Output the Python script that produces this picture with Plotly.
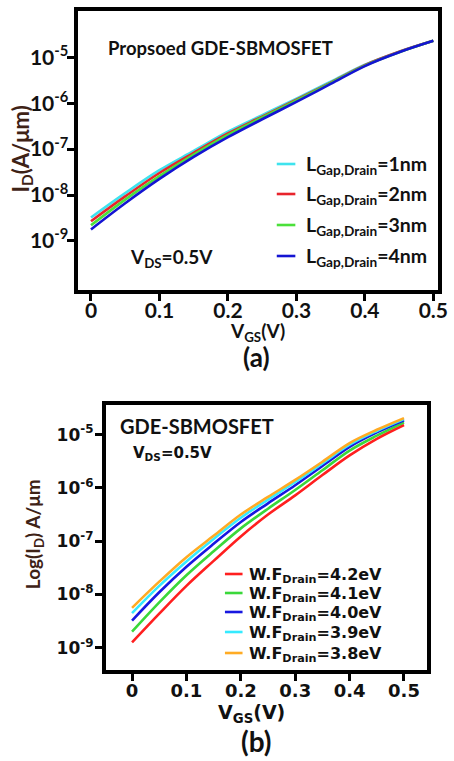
import plotly.graph_objects as go

W, H = 454, 761

# ---------------- data ----------------
vgs = [0, 0.05, 0.1, 0.15, 0.2, 0.25, 0.3, 0.35, 0.4, 0.45, 0.5]

# (a) drain gap length sweep, I_D in A/um
gap_labels = ["1nm", "2nm", "3nm", "4nm"]
id_gap1 = [3.24e-9, 1.10e-8, 3.47e-8, 9.12e-8, 2.40e-7, 5.50e-7, 1.26e-6, 2.95e-6, 6.92e-6, 1.32e-5, 2.29e-5]
id_gap2 = [2.69e-9, 9.33e-9, 3.02e-8, 8.32e-8, 2.19e-7, 5.13e-7, 1.20e-6, 2.82e-6, 6.76e-6, 1.32e-5, 2.29e-5]
id_gap3 = [2.19e-9, 7.94e-9, 2.57e-8, 7.59e-8, 2.04e-7, 4.90e-7, 1.15e-6, 2.75e-6, 6.61e-6, 1.29e-5, 2.29e-5]
id_gap4 = [1.78e-9, 6.61e-9, 2.24e-8, 6.76e-8, 1.82e-7, 4.47e-7, 1.07e-6, 2.63e-6, 6.46e-6, 1.29e-5, 2.29e-5]

# (b) drain work function sweep, I_D in A/um
wf_labels = ["4.2eV", "4.1eV", "4.0eV", "3.9eV", "3.8eV"]
id_wf42 = [1.26e-9, 4.37e-9, 1.45e-8, 4.27e-8, 1.23e-7, 3.16e-7, 7.24e-7, 1.74e-6, 4.07e-6, 8.32e-6, 1.51e-5]
id_wf41 = [2.00e-9, 7.08e-9, 2.29e-8, 6.46e-8, 1.74e-7, 4.07e-7, 9.12e-7, 2.14e-6, 5.01e-6, 9.55e-6, 1.70e-5]
id_wf40 = [3.24e-9, 1.10e-8, 3.31e-8, 8.91e-8, 2.29e-7, 5.13e-7, 1.12e-6, 2.57e-6, 5.89e-6, 1.10e-5, 1.86e-5]
id_wf39 = [4.47e-9, 1.45e-8, 4.17e-8, 1.10e-7, 2.75e-7, 6.03e-7, 1.29e-6, 2.88e-6, 6.46e-6, 1.17e-5, 1.95e-5]
id_wf38 = [5.62e-9, 1.74e-8, 5.01e-8, 1.26e-7, 3.16e-7, 6.76e-7, 1.41e-6, 3.09e-6, 6.92e-6, 1.23e-5, 2.04e-5]

x_ticks = [0, 0.1, 0.2, 0.3, 0.4, 0.5]
x_ticktext = ["0", "0.1", "0.2", "0.3", "0.4", "0.5"]
y_ticks = [1e-9, 1e-8, 1e-7, 1e-6, 1e-5]
y_ticktext = ["10<sup>-9</sup>", "10<sup>-8</sup>", "10<sup>-7</sup>", "10<sup>-6</sup>", "10<sup>-5</sup>"]

# ---------------- styling ----------------
CAL = "Lato"
VER = "DejaVu Sans"
BROWN = "#3e2216"
INK = "#111111"

colors_a = ["#3fe3ee", "#e8242c", "#4be03a", "#1414d2"]
colors_b = ["#ff1f1f", "#3ad83a", "#1717e0", "#35eaff", "#ffab24"]


def px(x):
    return x / W


def py(y):
    return 1 - y / H


fig = go.Figure()

names_a = ["L<sub>Gap,Drain</sub>=" + lab for lab in gap_labels]
names_b = ["W.F<sub>Drain</sub>=" + lab for lab in wf_labels]

for ys, nm, c in zip([id_gap1, id_gap2, id_gap3, id_gap4], names_a, colors_a):
    fig.add_trace(go.Scatter(
        x=vgs, y=ys, mode="lines", line=dict(color=c, width=2.6, shape="spline"),
        name=nm, xaxis="x", yaxis="y", showlegend=False))

for ys, nm, c in zip([id_wf42, id_wf41, id_wf40, id_wf39, id_wf38], names_b, colors_b):
    fig.add_trace(go.Scatter(
        x=vgs, y=ys, mode="lines", line=dict(color=c, width=2.6, shape="spline"),
        name=nm, xaxis="x2", yaxis="y2", showlegend=False))

common_axis = dict(showline=True, linecolor="black", mirror=True, ticks="outside",
                   tickcolor="black", showgrid=False, zeroline=False,
                   linewidth=3.5, tickwidth=3, ticklen=7, ticklabeloverflow="allow")

fig.update_layout(
    width=W, height=H, margin=dict(l=0, r=0, t=0, b=0),
    paper_bgcolor="white", plot_bgcolor="white", showlegend=False,
    xaxis=dict(domain=[px(80), px(448)], range=[-0.0186, 0.507], anchor="y",
               tickvals=x_ticks, ticktext=x_ticktext, ticklabelstandoff=-8,
               tickfont=dict(family=CAL, size=21, color=INK, weight="bold"),
               **common_axis),
    yaxis=dict(domain=[py(290), py(11)], type="log", range=[-10.07, -3.99], anchor="x",
               tickvals=y_ticks, ticktext=y_ticktext, ticklabelstandoff=-5,
               tickfont=dict(family=CAL, size=21, color=INK, weight="bold"),
               **common_axis),
    xaxis2=dict(domain=[px(108), px(437)], range=[-0.0486, 0.543], anchor="y2",
                tickvals=x_ticks, ticktext=x_ticktext, ticklabelstandoff=-5,
                tickfont=dict(family=VER, size=18, color=INK, weight="bold"),
                **common_axis),
    yaxis2=dict(domain=[py(670), py(405)], type="log", range=[-9.417, -4.445], anchor="x2",
                tickvals=y_ticks, ticktext=y_ticktext, ticklabelstandoff=-2,
                tickfont=dict(family=VER, size=17, color=INK, weight="bold"),
                **common_axis),
)

ann = []
shapes = []

# (a) texts
ann.append(dict(text="Propsoed GDE-SBMOSFET", x=px(108), y=py(48), xanchor="left", yanchor="middle",
                font=dict(family=CAL, size=18.5, color=INK, weight="bold")))
ann.append(dict(text="V<sub>DS</sub>=0.5V", x=px(131), y=py(258), xanchor="left", yanchor="middle",
                font=dict(family=CAL, size=19, color=INK, weight="bold")))
ann.append(dict(text="I<sub>D</sub>(A/μm)", x=px(22), y=py(149), xanchor="center", yanchor="middle",
                textangle=-90, font=dict(family=CAL, size=22, color=BROWN, weight="bold")))
ann.append(dict(text="V<sub>GS</sub>(V)", x=px(263), y=py(332), xanchor="center", yanchor="middle",
                font=dict(family=CAL, size=19, color=INK, weight="bold")))
ann.append(dict(text="(a)", x=px(262), y=py(357), xanchor="center", yanchor="middle",
                font=dict(family=CAL, size=26, color=INK, weight="bold")))

# (a) legend
leg_a_y = [164, 194, 225, 256]
for nm, c, yy in zip(names_a, colors_a, leg_a_y):
    shapes.append(dict(type="line", xref="paper", yref="paper", x0=px(283), x1=px(302),
                       y0=py(yy), y1=py(yy), line=dict(color=c, width=2.6)))
    ann.append(dict(text=nm, x=px(311), y=py(yy + 1), xanchor="left", yanchor="middle",
                    font=dict(family=CAL, size=19.5, color=INK, weight="bold")))

# (b) texts
ann.append(dict(text="GDE-SBMOSFET", x=px(121), y=py(426), xanchor="left", yanchor="middle",
                font=dict(family=CAL, size=20, color=INK, weight="bold")))
ann.append(dict(text="V<sub>DS</sub>=0.5V", x=px(134), y=py(453), xanchor="left", yanchor="middle",
                font=dict(family=VER, size=15, color=INK, weight="bold")))
ann.append(dict(text="Log(I<sub>D</sub>) A/μm", x=px(35), y=py(534), xanchor="center", yanchor="middle",
                textangle=-90, font=dict(family=CAL, size=19, color=BROWN, weight="bold")))
ann.append(dict(text="V<sub>GS</sub>(V)", x=px(257), y=py(713), xanchor="center", yanchor="middle",
                font=dict(family=VER, size=19, color=INK, weight="bold")))
ann.append(dict(text="(b)", x=px(262), y=py(741), xanchor="center", yanchor="middle",
                font=dict(family=CAL, size=28, color=INK, weight="bold")))

# (b) legend
leg_b_y = [574, 593, 612, 632, 653]
for nm, c, yy in zip(names_b, colors_b, leg_b_y):
    shapes.append(dict(type="line", xref="paper", yref="paper", x0=px(230), x1=px(248),
                       y0=py(yy), y1=py(yy), line=dict(color=c, width=2.6)))
    ann.append(dict(text=nm, x=px(253), y=py(yy + 1), xanchor="left", yanchor="middle",
                    font=dict(family=VER, size=16, color=INK, weight="bold")))

for a in ann:
    a.update(xref="paper", yref="paper", showarrow=False)
fig.update_layout(annotations=ann, shapes=shapes)

fig.write_html("out.html", config={"displayModeBar": False},
               post_script="document.body.style.margin='0';")
